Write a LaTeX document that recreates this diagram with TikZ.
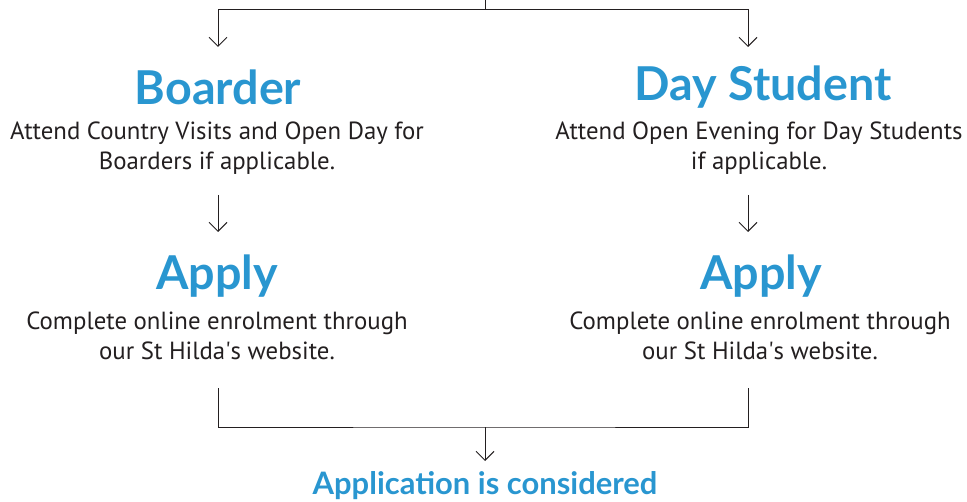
\documentclass[tikz,border=0pt]{standalone}
\usepackage{fontspec}
\setmainfont{PT Sans}
\newfontfamily\headfont{Lato}
\usetikzlibrary{arrows.meta}
\definecolor{stblue}{RGB}{41,150,208}
\definecolor{stgrey}{RGB}{35,31,32}
\tikzset{
  title/.style={text=stblue, font=\headfont\bfseries\fontsize{35}{39}\selectfont, inner sep=0pt},
  subtitle/.style={text=stblue, font=\headfont\bfseries\fontsize{23.2}{27}\selectfont, inner sep=0pt},
  desc/.style={text=stgrey, font=\fontsize{18.6}{22.5}\selectfont, align=center, inner sep=0pt},
  flow/.style={draw=stgrey, line width=0.75pt, -{Straight Barb[length=6.75pt,width=13.5pt]}},
  link/.style={draw=stgrey, line width=0.75pt}
}

\begin{document}
\begin{tikzpicture}[x=0.75pt, y=-0.75pt]
  \useasboundingbox (0,0) rectangle (967,502);
  % top split
  \coordinate (top) at (485,0);
  \coordinate (split) at (485,10);
  \coordinate (bIn) at (218,47);
  \coordinate (dIn) at (748,47);
  \draw[link] (top) -- (split);
  \draw[flow] (split) -| (bIn);
  \draw[flow] (split) -| (dIn);

  \node[title] (boarder) at (218,87) {Boarder};
  \node[title] (day) at (763,87) {Day Student};
  \node[desc] (boarderTxt) at (217,148) {Attend Country Visits and Open Day for\\Boarders if applicable.};
  \node[desc] (dayTxt) at (759,148) {Attend Open Evening for Day Students\\if applicable.};

  \coordinate (bMidA) at (218,195);
  \coordinate (bMidB) at (218,232);
  \coordinate (dMidA) at (748,195);
  \coordinate (dMidB) at (748,232);
  \draw[flow] (bMidA) -- (bMidB);
  \draw[flow] (dMidA) -- (dMidB);

  \node[title] (applyB) at (217,276) {Apply};
  \node[title] (applyD) at (761,276) {Apply};
  \node[desc] (applyBTxt) at (217,336) {Complete online enrolment through\\our St Hilda\textquotesingle s website.};
  \node[desc] (applyDTxt) at (760,336) {Complete online enrolment through\\our St Hilda\textquotesingle s website.};

  % bottom join
  \coordinate (bOut) at (218,388);
  \coordinate (dOut) at (748,388);
  \coordinate (join) at (485,427);
  \coordinate (endIn) at (485,461);
  \draw[link] (bOut) |- (join) -| (dOut);
  \draw[flow] (join) -- (endIn);

  \node[subtitle] (considered) at (485,486) {Application is considered};
\end{tikzpicture}
\end{document}
